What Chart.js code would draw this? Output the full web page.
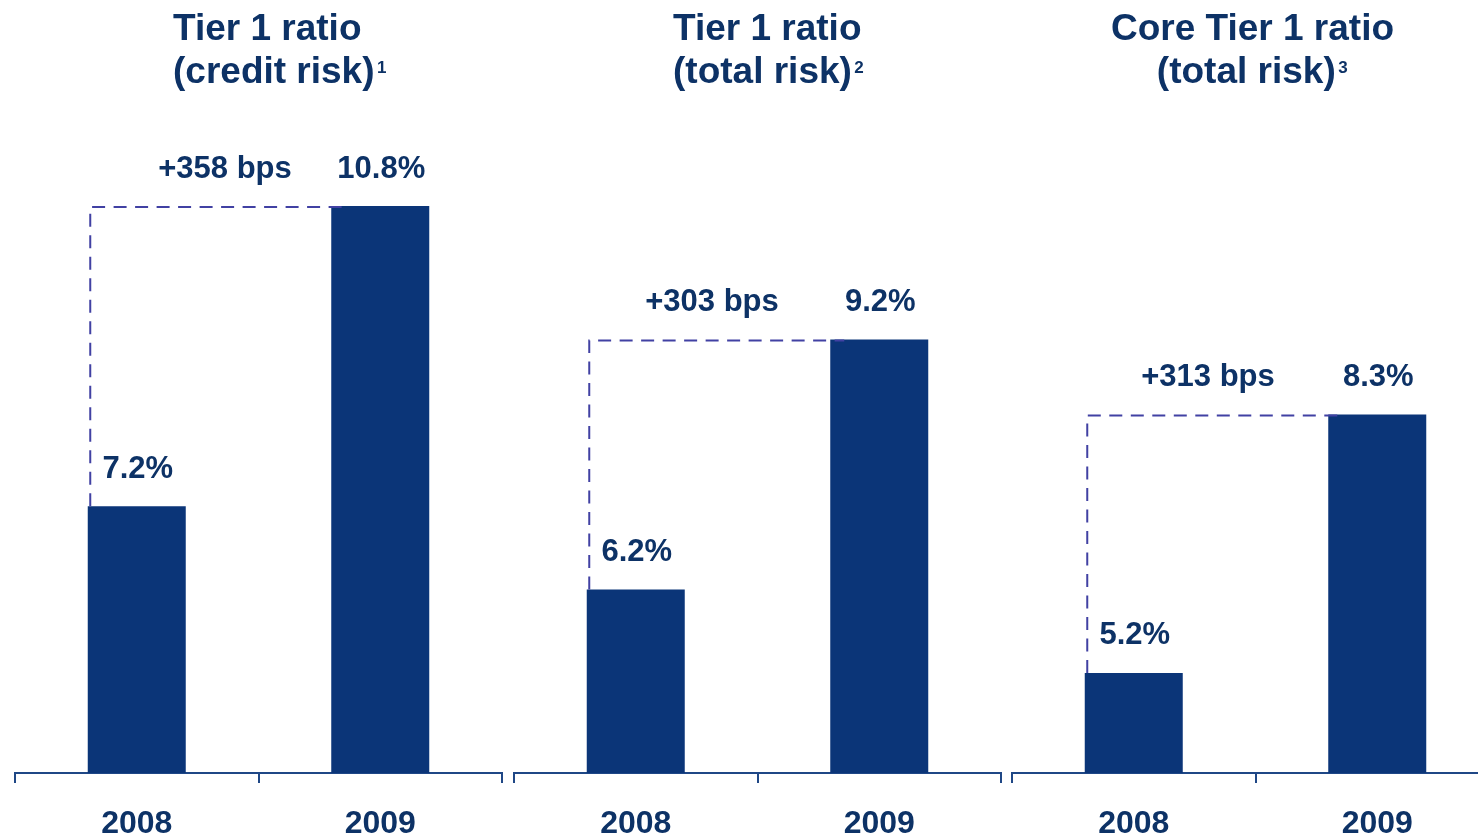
<!DOCTYPE html>
<html>
<head>
<meta charset="utf-8">
<script src="https://cdn.jsdelivr.net/npm/chart.js@4/dist/chart.umd.min.js"></script>
<style>
  html, body { margin: 0; padding: 0; background: #ffffff; overflow: hidden; width: 1478px; height: 838px; }
  .panel { position: absolute; top: 0; }
</style>
</head>
<body>
<div class="panel" style="left:10px"><canvas id="c0" width="497" height="838"></canvas></div>
<div class="panel" style="left:509px"><canvas id="c1" width="497" height="838"></canvas></div>
<div class="panel" style="left:1007px"><canvas id="c2" width="497" height="838"></canvas></div>
<script>
// ---- Data ----
const years = ['2008', '2009'];
const titleLine1 = ['Tier 1 ratio', 'Tier 1 ratio', 'Core Tier 1 ratio'];
const titleLine2 = ['(credit risk)', '(total risk)', '(total risk)'];
const footnoteMarks = ['1', '2', '3'];
const tier1CreditRisk = [7.2, 10.8];
const tier1TotalRisk = [6.2, 9.2];
const coreTier1TotalRisk = [5.2, 8.3];
const changeBps = [358, 303, 313];

const panelValues = [tier1CreditRisk, tier1TotalRisk, coreTier1TotalRisk];

// ---- Style / layout ----
const BAR_COLOR = '#0B3578';
const TEXT_COLOR = '#0D3266';
const AXIS_COLOR = '#1F4786';
const DASH_COLOR = '#4141A3';
const FONT = '"Liberation Sans", Arial, Helvetica, sans-serif';
const titleLayout = [
  { align: 'left', dx: -85.5 },
  { align: 'left', dx: -84.5 },
  { align: 'center', dx: -3 }
];
const bpsDx = [-33.5, -45.5, -47.5];

function makePlugin(idx) {
  return {
    id: 'annot' + idx,
    afterDatasetsDraw(chart) {
      const ctx = chart.ctx;
      const meta = chart.getDatasetMeta(0);
      const b0 = meta.data[0], b1 = meta.data[1];
      const left0 = b0.x - b0.width / 2;
      const left1 = b1.x - b1.width / 2;
      const ca = chart.chartArea;
      const cx = (ca.left + ca.right) / 2;

      // dashed connector
      ctx.save();
      ctx.strokeStyle = DASH_COLOR;
      ctx.lineWidth = 2;
      ctx.setLineDash([13, 8.5]);
      ctx.beginPath();
      ctx.moveTo(left0 + 2.5, b0.y);
      ctx.lineTo(left0 + 2.5, b1.y + 1);
      ctx.lineTo(left1 + 14, b1.y + 1);
      ctx.stroke();
      ctx.restore();

      // value labels
      ctx.save();
      ctx.fillStyle = TEXT_COLOR;
      ctx.font = 'bold 31px ' + FONT;
      ctx.textAlign = 'center';
      ctx.textBaseline = 'alphabetic';
      const vals = panelValues[idx];
      [b0, b1].forEach((b, i) => {
        ctx.fillText(vals[i].toFixed(1) + '%', b.x + 1, b.y - 28.5);
      });
      ctx.fillText('+' + changeBps[idx] + ' bps', cx + bpsDx[idx], b1.y - 28.5);
      ctx.restore();

      // title
      ctx.save();
      ctx.fillStyle = TEXT_COLOR;
      ctx.font = 'bold 37px ' + FONT;
      ctx.textBaseline = 'alphabetic';
      const lay = titleLayout[idx];
      const w1 = ctx.measureText(titleLine1[idx]).width;
      const w2 = ctx.measureText(titleLine2[idx]).width;
      let x1, x2;
      if (lay.align === 'left') {
        x1 = cx + lay.dx; x2 = cx + lay.dx;
      } else {
        ctx.font = 'bold 17px ' + FONT;
        const ws = ctx.measureText(footnoteMarks[idx]).width + 3;
        ctx.font = 'bold 37px ' + FONT;
        x1 = cx + lay.dx - w1 / 2;
        x2 = cx + lay.dx - (w2 + ws) / 2;
      }
      ctx.textAlign = 'left';
      ctx.fillText(titleLine1[idx], x1, 39.5);
      ctx.fillText(titleLine2[idx], x2, 83);
      ctx.font = 'bold 17px ' + FONT;
      ctx.fillText(footnoteMarks[idx], x2 + w2 + 2.5, 72.5);
      ctx.restore();
    }
  };
}

panelValues.forEach((vals, idx) => {
  new Chart(document.getElementById('c' + idx), {
    type: 'bar',
    data: {
      labels: years,
      datasets: [{
        data: vals,
        backgroundColor: BAR_COLOR,
        borderWidth: 0,
        barPercentage: 98 / 243.5,
        categoryPercentage: 1
      }]
    },
    options: {
      responsive: false,
      animation: false,
      events: [],
      layout: { padding: { top: 106, left: 5, right: 5, bottom: 0 } },
      plugins: { legend: { display: false }, tooltip: { enabled: false }, title: { display: false } },
      scales: {
        y: { display: false, min: 4, max: 12 },
        x: {
          afterFit: (scale) => { scale.height = 65; },
          offset: true,
          grid: {
            display: true, offset: true, drawOnChartArea: false, drawTicks: true,
            tickLength: 10, color: AXIS_COLOR, lineWidth: 2
          },
          border: { display: true, color: AXIS_COLOR, width: 2 },
          ticks: {
            color: TEXT_COLOR,
            font: { family: FONT, weight: 'bold', size: 32, lineHeight: 1.2 },
            padding: 22,
            maxRotation: 0
          }
        }
      }
    },
    plugins: [makePlugin(idx)]
  });
});
</script>
</body>
</html>
